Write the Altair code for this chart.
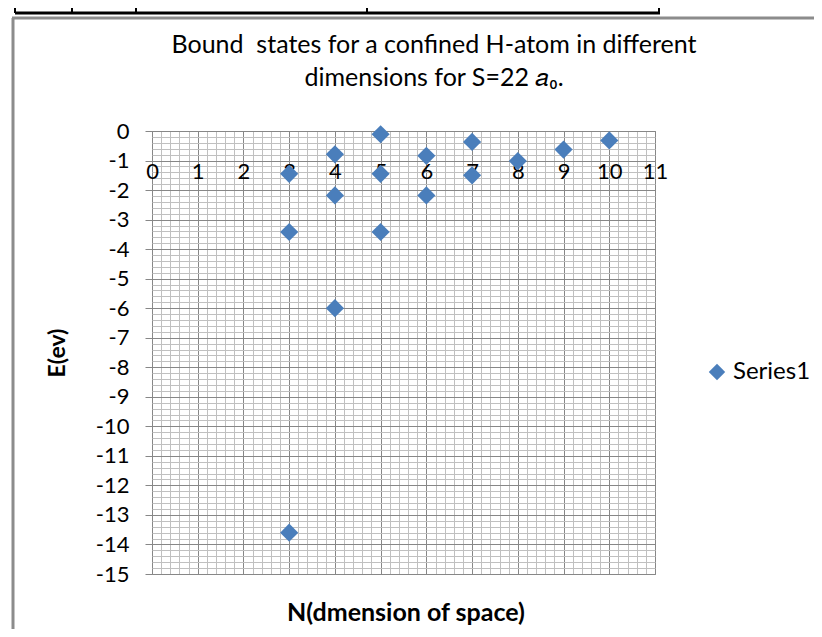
import altair as alt
import pandas as pd

# ---- data ----
dimensions = [3, 3, 3, 4, 4, 4, 5, 5, 5, 6, 6, 7, 7, 8, 9, 10]
energies = [-13.6, -3.42, -1.45, -6.0, -2.18, -0.79, -3.42, -1.45, -0.11,
            -2.18, -0.84, -1.5, -0.37, -1.02, -0.63, -0.32]
series = ["Series1"] * len(dimensions)

title_lines = ["Bound\u00a0 states for a confined H-atom in different",
               "dimensions for S=22 \U0001D44E\u2080."]
x_title = "N(dmension of space)"
y_title = "E(ev)"

# grid positions (major every 1, minor every 0.2)
x_grid = [round(0.2 * i, 1) for i in range(56)]
y_grid = [round(-15 + 0.2 * i, 1) for i in range(76)]

df = pd.DataFrame({"N": dimensions, "E": energies, "s": series})
one = pd.DataFrame({"k": [0]})

FONT = "Lato"
W, H = 503, 443
AX = H - H / 15.0          # x axis sits on the y = -1 gridline
is_major = "abs(datum.value - round(datum.value)) < 0.001"
major_col = "#878787"
minor_col = "#c0c0c0"

x_axis = alt.Axis(
    values=x_grid, orient="bottom", offset=-AX,
    grid=True,
    gridColor={"condition": {"test": is_major, "value": major_col}, "value": minor_col},
    gridWidth=1,
    ticks=False, domain=False,
    labelExpr=f"{is_major} ? toString(datum.value) : ''",
    labelFont=FONT, labelFontSize=22, labelColor="#000000",
    labelBaseline="top", labelPadding=1, labelOverlap=False, labelFlush=False,
    title=x_title, titleFont=FONT, titleFontSize=25, titleFontWeight="bold",
    titleColor="#000000", titleX=W / 2 + 2, titleY=612 - 131 - (H - AX),
    titleBaseline="middle",
)
y_axis = alt.Axis(
    values=y_grid, orient="left",
    grid=True,
    gridColor={"condition": {"test": is_major, "value": major_col}, "value": minor_col},
    gridWidth=1,
    ticks=True, tickSize=7,
    tickColor={"condition": {"test": is_major, "value": major_col}, "value": "transparent"},
    domain=False,
    labelExpr=f"{is_major} ? toString(datum.value) : ''",
    labelFont=FONT, labelFontSize=22, labelColor="#000000",
    labelPadding=16, labelOverlap=False, labelFlush=False,
    title=y_title, titleFont=FONT, titleFontSize=23, titleFontWeight="bold",
    titleColor="#000000", titleX=-95, titleY=H / 2, titleAngle=270,
    titleAlign="center", titleBaseline="middle",
)

points = alt.Chart(df).mark_point(shape="diamond", filled=True, opacity=1, size=330).encode(
    x=alt.X("N:Q", scale=alt.Scale(domain=[0, 11], nice=False, zero=False), axis=x_axis),
    y=alt.Y("E:Q", scale=alt.Scale(domain=[-15, 0], nice=False, zero=False), axis=y_axis),
    color=alt.Color("s:N", scale=alt.Scale(range=["#4a7ebb"]),
                    legend=alt.Legend(title=None, orient="none", legendX=553, legendY=229,
                                      padding=0, symbolType="diamond", symbolSize=270,
                                      symbolStrokeWidth=0, labelFont=FONT, labelFontSize=24,
                                      labelColor="#000000", labelOffset=4)),
)

title = alt.Chart(one).mark_text(
    font=FONT, fontSize=25, color="#000000", align="center", baseline="top",
    lineHeight=33,
).encode(x=alt.value(434 - 152), y=alt.value(33 - 131), text=alt.value(title_lines))

frame_col = "#8c8c8c"
frame_left = alt.Chart(one).mark_rule(color=frame_col, strokeWidth=3).encode(
    x=alt.value(-139), y=alt.value(-113), y2=alt.value(520))
frame_top = alt.Chart(one).mark_rule(color=frame_col, strokeWidth=3).encode(
    x=alt.value(-140), x2=alt.value(700), y=alt.value(-113))
table_bottom = alt.Chart(one).mark_rule(color="#000000", strokeWidth=3).encode(
    x=alt.value(-137), x2=alt.value(508), y=alt.value(-118))
table_v = [
    alt.Chart(one).mark_rule(color="#000000", strokeWidth=2).encode(
        x=alt.value(v), y=alt.value(-140), y2=alt.value(-118))
    for v in (-137, -80, -16, 215, 507)
]

chart = alt.layer(frame_left, frame_top, table_bottom, *table_v, title, points).properties(
    width=W, height=H,
    autosize=alt.AutoSizeParams(type="none"),
    padding={"left": 144, "top": 123, "right": 822 - 16 - 144 - W, "bottom": 637 - 16 - 123 - H},
).configure_view(stroke=major_col, strokeWidth=1)

chart.save("out.html", embed_options={"renderer": "svg", "actions": False})
